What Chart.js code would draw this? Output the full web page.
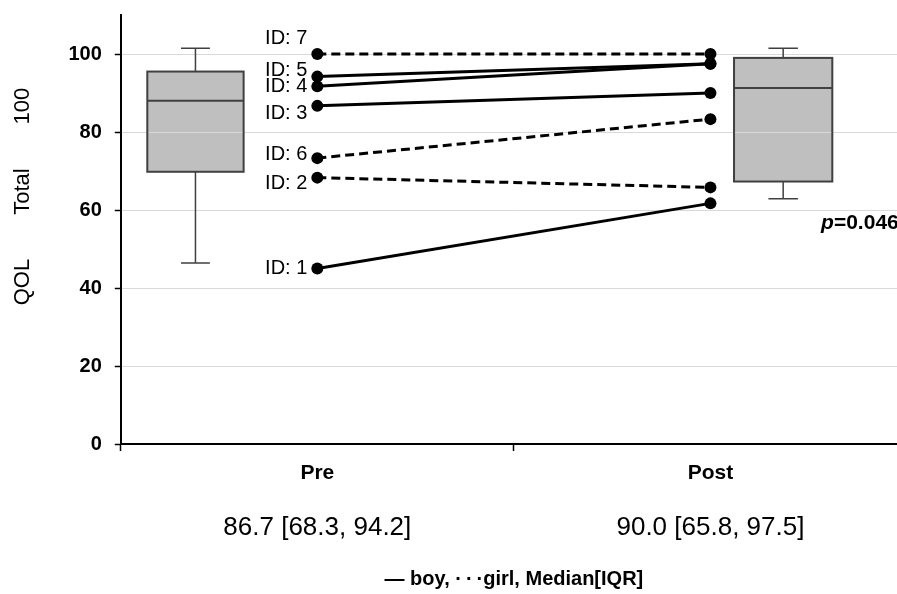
<!DOCTYPE html>
<html>
<head>
<meta charset="utf-8">
<script src="https://cdn.jsdelivr.net/npm/chart.js@4.4.0/dist/chart.umd.min.js"></script>
<style>
    html, body { margin: 0; padding: 0; background: #fff; overflow: hidden; }
    #wrap { width: 923px; height: 604px; margin-top: -10px; }
</style>
</head>
<body>
<div id="wrap"><canvas id="chart"></canvas></div>
<script>
const FONT = "'Liberation Sans', Arial, sans-serif";

// data
const timepoints = ["Pre", "Post"];
const summaryLabels = ["86.7 [68.3, 94.2]", "90.0 [65.8, 97.5]"];
const subjectIds = [1, 2, 3, 4, 5, 6, 7];
const subjectSex = ["boy", "girl", "boy", "boy", "boy", "girl", "girl"];
const preScores = [45.0, 68.3, 86.7, 91.7, 94.2, 73.3, 100.0];
const postScores = [61.7, 65.8, 90.0, 97.5, 97.5, 83.3, 100.0];
// box plots as drawn: [min, q1, median, q3, max]
const preBox = [46.4, 69.8, 88.0, 95.5, 101.5];
const postBox = [62.9, 67.3, 91.3, 99.0, 101.5];
const yTicks = [0, 20, 40, 60, 80, 100];
const pValue = "0.046";
const yTitle = "\u3000\u3000\u3000QOL\u3000\u3000Total\u3000\u3000100";
const legendText = "\u2014 boy, \u00b7\u2009\u00b7\u2009\u00b7girl, Median[IQR]";

// layout of the annotations (pixels / axis units), not data
const boxPlacement = [
    { stats: preBox, x: -0.31, width: 0.245 },
    { stats: postBox, x: 1.185, width: 0.25 },
];
const idLabelNudge = [0, 6, 8, 0, -6, -4, -16];
const xTickValues = [-0.5, 0, 0.5, 1, 1.5];

const tickLabel = (labels) => (v) => {
    if (v === 0) return labels[0];
    if (v === 1) return labels[1];
    return "";
};

const boxPlugin = {
    id: "boxPlot",
    beforeDraw(chart) {
        // fill first so grid lines show through it
        const { ctx, scales: { x, y } } = chart;
        ctx.save();
        ctx.fillStyle = "#bfbfbf";
        boxPlacement.forEach((b) => {
            const left = x.getPixelForValue(b.x - b.width / 2);
            const right = x.getPixelForValue(b.x + b.width / 2);
            const top = y.getPixelForValue(b.stats[3]);
            const bottom = y.getPixelForValue(b.stats[1]);
            ctx.fillRect(left, top, right - left, bottom - top);
        });
        ctx.restore();
    },
    beforeDatasetsDraw(chart) {
        const { ctx, scales: { x, y } } = chart;
        ctx.save();
        ctx.strokeStyle = "#404040";
        boxPlacement.forEach((b) => {
            const [mn, q1, md, q3, mx] = b.stats.map((v) => y.getPixelForValue(v));
            const cx = x.getPixelForValue(b.x);
            const left = x.getPixelForValue(b.x - b.width / 2);
            const right = x.getPixelForValue(b.x + b.width / 2);
            const cap = (right - left) * 0.15;
            ctx.lineWidth = 1.5;
            ctx.beginPath();
            ctx.moveTo(cx, q3); ctx.lineTo(cx, mx);
            ctx.moveTo(cx - cap, mx); ctx.lineTo(cx + cap, mx);
            ctx.moveTo(cx, q1); ctx.lineTo(cx, mn);
            ctx.moveTo(cx - cap, mn); ctx.lineTo(cx + cap, mn);
            ctx.stroke();
            ctx.lineWidth = 2;
            ctx.strokeRect(left, q3, right - left, q1 - q3);
            ctx.beginPath();
            ctx.moveTo(left, md); ctx.lineTo(right, md);
            ctx.stroke();
        });
        ctx.restore();
    },
    afterDatasetsDraw(chart) {
        const { ctx, scales: { x, y } } = chart;
        ctx.save();
        ctx.fillStyle = "#000";
        ctx.font = `20px ${FONT}`;
        ctx.textAlign = "right";
        ctx.textBaseline = "middle";
        subjectIds.forEach((id, i) => {
            const px = x.getPixelForValue(0) - 10;
            const py = y.getPixelForValue(preScores[i]) + idLabelNudge[i];
            ctx.fillText(`ID: ${id}`, px, py);
        });

        // p value, right aligned
        const right = x.getPixelForValue(1.479);
        const py = y.getPixelForValue(56.5);
        ctx.font = `bold 21px ${FONT}`;
        const rest = `=${pValue}`;
        const wRest = ctx.measureText(rest).width;
        ctx.fillText(rest, right, py);
        ctx.font = `italic bold 21px ${FONT}`;
        ctx.fillText("p", right - wRest, py);
        ctx.restore();
    },
};

const datasets = subjectIds.map((id, i) => ({
    label: `ID: ${id}`,
    data: [
        { x: 0, y: preScores[i] },
        { x: 1, y: postScores[i] },
    ],
    borderColor: "#000",
    backgroundColor: "#000",
    borderWidth: 3,
    borderDash: subjectSex[i] === "girl" ? [9, 5] : [],
    pointRadius: 6,
    pointBorderWidth: 0,
    pointBackgroundColor: "#000",
    showLine: true,
}));

new Chart(document.getElementById("chart"), {
    type: "scatter",
    data: { datasets },
    options: {
        responsive: true,
        maintainAspectRatio: false,
        animation: false,
        layout: { padding: { left: 9, top: 15, right: 0, bottom: 1 } },
        plugins: {
            legend: { display: false },
            tooltip: { enabled: false },
        },
        scales: {
            x: {
                type: "linear",
                min: -0.5,
                max: 1.5,
                afterBuildTicks: (axis) => { axis.ticks = xTickValues.map((v) => ({ value: v })); },
                ticks: {
                    autoSkip: false,
                    maxRotation: 0,
                    padding: 10,
                    color: "#000",
                    font: { family: FONT, size: 21, weight: "bold" },
                    callback: tickLabel(timepoints),
                },
                grid: {
                    drawOnChartArea: false,
                    tickLength: 7,
                    tickWidth: 1.5,
                    tickColor: (c) => (c.tick && (c.tick.value === -0.5 || c.tick.value === 0.5)) ? "#000" : "rgba(0,0,0,0)",
                },
                border: { color: "#000", width: 2 },
            },
            x2: {
                type: "linear",
                position: "bottom",
                weight: 1,
                min: -0.5,
                max: 1.5,
                afterBuildTicks: (axis) => { axis.ticks = xTickValues.map((v) => ({ value: v })); },
                ticks: {
                    autoSkip: false,
                    maxRotation: 0,
                    padding: 16,
                    color: "#000",
                    font: { family: FONT, size: 26 },
                    callback: tickLabel(summaryLabels),
                },
                grid: { display: false, drawTicks: false },
                border: { display: false },
                title: {
                    display: true,
                    text: legendText,
                    color: "#000",
                    font: { family: FONT, size: 20, weight: "bold" },
                    padding: { top: 7.6, bottom: 2 },
                },
            },
            y: {
                min: 0,
                max: 110,
                afterBuildTicks: (axis) => { axis.ticks = yTicks.map((v) => ({ value: v })); },
                ticks: {
                    padding: 13,
                    color: "#000",
                    font: { family: FONT, size: 20, weight: "bold" },
                },
                grid: {
                    color: (c) => (c.tick && c.tick.value === 0) ? "rgba(0,0,0,0)" : "#d9d9d9",
                    lineWidth: 1,
                    tickLength: 6,
                    tickWidth: 1.5,
                    tickColor: "#000",
                },
                border: { color: "#000", width: 2 },
                title: {
                    display: true,
                    text: yTitle,
                    color: "#000",
                    font: { family: FONT, size: 22 },
                    padding: { top: 1, bottom: 19 },
                },
            },
        },
    },
    plugins: [boxPlugin],
});
</script>
</body>
</html>
